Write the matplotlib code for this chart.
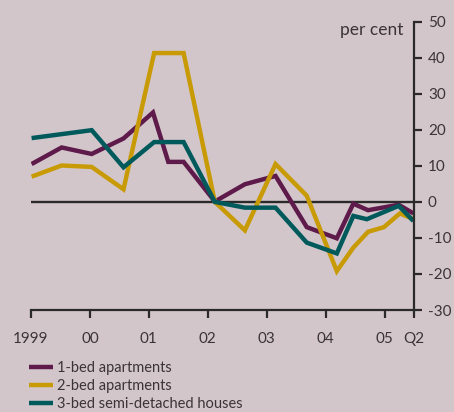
import matplotlib
matplotlib.use("Agg")
import matplotlib.pyplot as plt

# 数据（从图中读取，年份为小数）
x_1bed = [1999.01, 1999.52, 2000.03, 2000.57, 2001.07, 2001.33, 2001.59, 2002.12,
          2002.63, 2003.15, 2003.68, 2004.19, 2004.47, 2004.72, 2005.24, 2005.49]
y_1bed = [10.5, 15.1, 13.3, 17.6, 24.8, 11.1, 11.1, 0.1,
          4.9, 7.2, -7.0, -10.1, -0.5, -2.3, -0.8, -3.2]

x_2bed = [1999.01, 1999.52, 2000.03, 2000.57, 2001.09, 2001.59, 2002.12, 2002.63,
          2003.15, 2003.68, 2004.19, 2004.47, 2004.72, 2004.99, 2005.26, 2005.49]
y_2bed = [7.0, 10.1, 9.7, 3.5, 41.3, 41.3, 0.0, -7.9,
          10.5, 1.7, -19.2, -12.7, -8.3, -7.0, -3.2, -4.8]

x_3bed = [1999.01, 2000.03, 2000.57, 2001.09, 2001.59, 2002.12, 2002.63, 2003.15,
          2003.68, 2004.19, 2004.47, 2004.70, 2005.24, 2005.49]
y_3bed = [17.7, 19.9, 9.6, 16.6, 16.6, 0.0, -1.6, -1.6,
          -11.3, -14.3, -3.9, -4.8, -1.1, -5.3]

series_labels = ["1-bed apartments", "2-bed apartments", "3-bed semi-detached houses"]
x_ticks = [1999, 2000, 2001, 2002, 2003, 2004, 2005, 2005.5]
x_tick_labels = ["1999", "00", "01", "02", "03", "04", "05", "Q2"]
y_ticks = [-30, -20, -10, 0, 10, 20, 30, 40, 50]

bg = "#d3c6cb"
txt = "#3b3436"
colors = ["#5e1a4b", "#c89b06", "#005a5c"]

plt.rcParams["font.family"] = ["Lato", "DejaVu Sans"]
plt.rcParams["font.size"] = 11

fig = plt.figure(figsize=(4.54, 4.12), dpi=100, facecolor=bg)
ax = fig.add_axes([31 / 454, 1 - 310 / 412, 383 / 454, 288.3 / 412])
ax.set_facecolor(bg)

# 零线
ax.axhline(0, color="#2a2a2a", lw=1.7, zorder=1)

for (xs, ys), c, lab in zip([(x_1bed, y_1bed), (x_2bed, y_2bed), (x_3bed, y_3bed)],
                            colors, series_labels):
    ax.plot(xs, ys, color=c, lw=3.2, label=lab, solid_joinstyle="miter",
            solid_capstyle="butt", zorder=2)

ax.set_xlim(1999, 2005.5)
ax.set_ylim(-30, 50)

for s in ["left", "top"]:
    ax.spines[s].set_visible(False)
for s in ["right", "bottom"]:
    ax.spines[s].set_color("#2a2a2a")
    ax.spines[s].set_linewidth(1.6)

ax.yaxis.tick_right()
ax.set_yticks(y_ticks)
ax.set_yticklabels([str(v) for v in y_ticks])
ax.set_xticks(x_ticks)
ax.set_xticklabels(x_tick_labels)
ax.tick_params(axis="both", colors="#2a2a2a", labelcolor=txt, width=1.6,
               length=6, labelsize=11)
ax.tick_params(axis="y", pad=4)
ax.tick_params(axis="x", pad=10)

fig.text(403 / 454, 1 - 35 / 412, "per cent", ha="right", va="baseline",
         color=txt, fontsize=12.5)

ax.legend(loc="upper left", bbox_to_anchor=(29 / 454, 1 - 361 / 412),
          bbox_transform=fig.transFigure, frameon=False, handlelength=1.65,
          handletextpad=0.27, labelspacing=0.28, borderaxespad=0, borderpad=0,
          labelcolor=txt, fontsize=10.5)

fig.savefig("out.png", dpi=100, facecolor=bg)
